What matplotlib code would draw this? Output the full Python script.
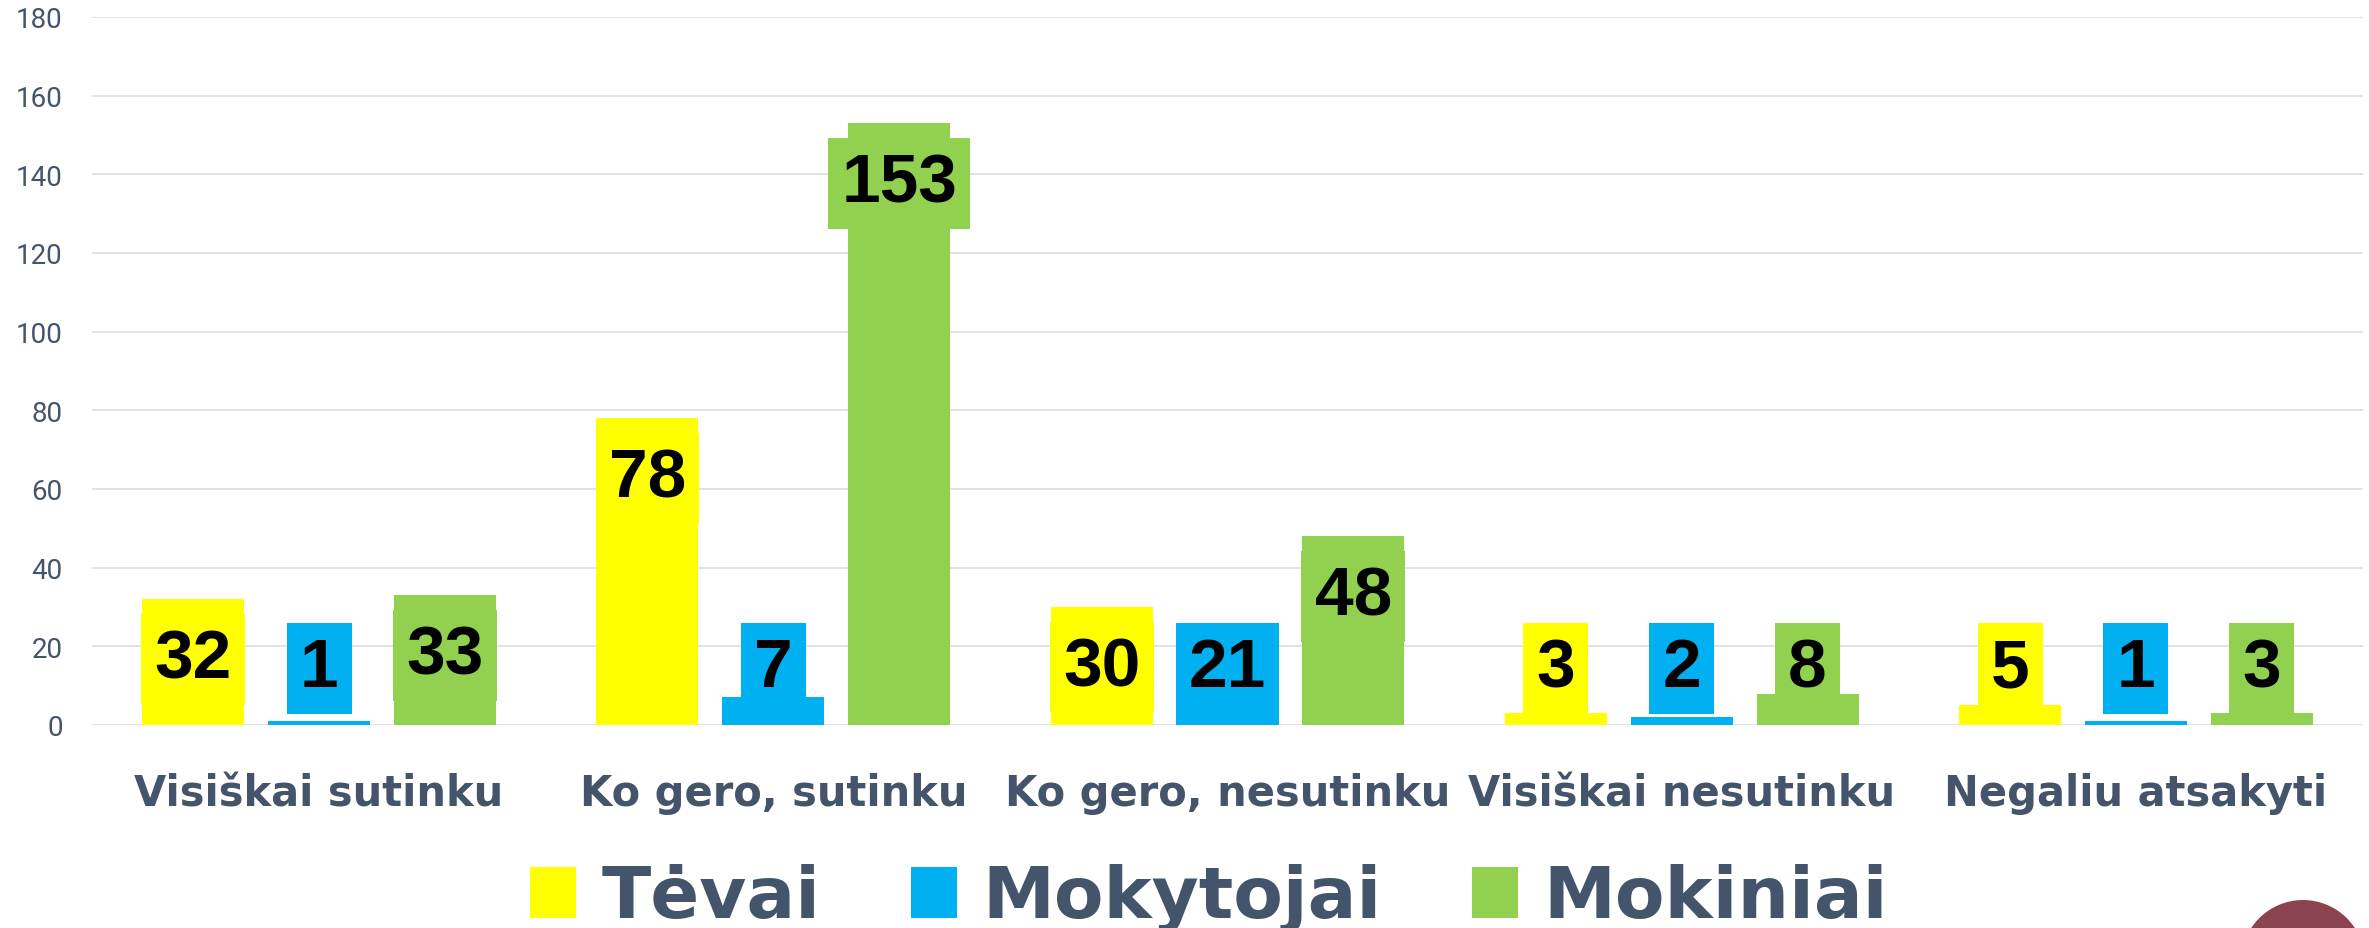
import matplotlib
matplotlib.use("Agg")
import matplotlib.pyplot as plt
import numpy as np
from matplotlib.patches import Circle

# ---- data ----
categories = ["Visiškai sutinku", "Ko gero, sutinku", "Ko gero, nesutinku",
              "Visiškai nesutinku", "Negaliu atsakyti"]
series_names = ["Tėvai", "Mokytojai", "Mokiniai"]
tevai = [32, 78, 30, 3, 5]
mokytojai = [1, 7, 21, 2, 1]
mokiniai = [33, 153, 48, 8, 3]
yticks = [0, 20, 40, 60, 80, 100, 120, 140, 160, 180]

colors = ["#FFFF00", "#00B0F0", "#92D050"]
text_color = "#44546A"

W, H, DPI = 2369, 929, 100
fig = plt.figure(figsize=(W / DPI, H / DPI), dpi=DPI)
ax = fig.add_axes([92 / W, 1 - 726 / H, (2363 - 92) / W, (726 - 18) / H])

x = np.arange(len(categories))
bw = 0.2246
off = 0.277
all_series = [tevai, mokytojai, mokiniai]
bars = []
for i, (vals, c, name) in enumerate(zip(all_series, colors, series_names)):
    xs = x + (i - 1) * off
    b = ax.bar(xs, vals, width=bw, color=c, label=name, zorder=3)
    bars.append(b)
    for xi, v in zip(xs, vals):
        yc = max(v - 2.5, 27.2) - 12.8
        ax.text(xi, yc, f"{v}", ha="center", va="center",
                family="Liberation Sans", fontweight="bold", fontsize=50,
                color="black", zorder=5,
                bbox=dict(boxstyle="square,pad=0.19", facecolor=c,
                          edgecolor="none"))

ax.set_ylim(0, 180)
ax.set_xlim(-0.5, len(categories) - 0.5)
ax.set_yticks(yticks)
ax.set_yticklabels([str(t) for t in yticks], family="Roboto", fontsize=20,
                   color=text_color)
ax.set_xticks(x)
ax.set_xticklabels(categories, family="DejaVu Sans", fontweight="bold",
                   fontsize=30, color=text_color)
ax.tick_params(axis="y", length=0, pad=21)
ax.tick_params(axis="x", length=0, pad=34)
for s in ax.spines.values():
    s.set_visible(False)
ax.grid(axis="y", color="#DCE0E6", linewidth=1.3, zorder=0)
ax.set_axisbelow(True)

leg = fig.legend(handles=bars, labels=series_names, loc="center",
                 bbox_to_anchor=(1209 / W, 1 - 899 / H), ncol=3,
                 frameon=False, prop=dict(family="DejaVu Sans", weight="bold", size=52),
                 handlelength=0.64, handleheight=0.71, handletextpad=0.35,
                 columnspacing=1.25, borderaxespad=0, borderpad=0)
for t in leg.get_texts():
    t.set_color(text_color)

# decorative circle at bottom right (slide element)
fig.patches.append(Circle((23.03, -0.34), 0.62, transform=fig.dpi_scale_trans,
                          facecolor="#8B444F", edgecolor="none"))

fig.savefig("out.png", dpi=DPI)
